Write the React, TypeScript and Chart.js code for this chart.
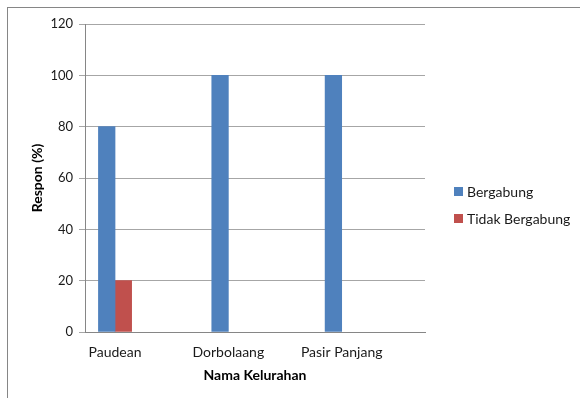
import React, { useEffect, useRef } from "react";
import { Chart, registerables } from "chart.js";

Chart.register(...registerables);

const categories = ["Paudean", "Dorbolaang", "Pasir Panjang"];
const bergabung = [80, 100, 100];
const tidakBergabung = [20, 0, 0];
const seriesNames = ["Bergabung", "Tidak Bergabung"];
const seriesColors = ["#4F81BD", "#C0504D"];
const yMin = 0;
const yMax = 120;
const yStep = 20;
const yTitle = "Respon (%)";
const xTitle = "Nama Kelurahan";

const FONT = "Lato, 'Noto Sans', sans-serif";

export default function App() {
  const ref = useRef<HTMLCanvasElement | null>(null);

  useEffect(() => {
    document.body.style.overflow = "hidden";
    const canvas = ref.current;
    if (!canvas) return;
    const series = [bergabung, tidakBergabung];
    const chart = new Chart(canvas, {
      type: "bar",
      data: {
        datasets: series.map((vals, s) => ({
          label: seriesNames[s],
          data: vals.map((v, i) => ({ x: i, y: v })),
          backgroundColor: (c: any) => (c.raw && c.raw.y === 0 ? "rgba(0,0,0,0)" : seriesColors[s]),
          borderWidth: 0,
          xAxisID: "x",
          yAxisID: "y",
          barThickness: 16.6,
        })),
      },
      options: {
        animation: false,
        responsive: false,
        maintainAspectRatio: false,
        layout: { padding: { top: 16, left: 0, right: 155, bottom: 0 } },
        plugins: { legend: { display: false }, tooltip: { enabled: false } },
        scales: {
          x: {
            type: "linear",
            position: "bottom",
            offset: false,
            min: -0.265,
            max: 2.735,
            bounds: "data",
            afterBuildTicks: (s: any) => {
              s.ticks = categories.map((_, i) => ({ value: i }));
            },
            afterFit: (s: any) => {
              s.height = 66;
            },
            grid: { display: false, drawTicks: false, offset: false },
            border: { display: true, color: "#868686", width: 1 },
            ticks: {
              autoSkip: false,
              maxRotation: 0,
              minRotation: 0,
              padding: 12,
              color: "#1a1a1a",
              font: { family: FONT, size: 14 },
              callback: (v: any) => categories[v as number] ?? "",
            },
            title: {
              display: true,
              text: xTitle,
              color: "#000",
              padding: { top: 0, bottom: 14 },
              font: { family: FONT, size: 14, weight: "bold" },
            },
          },
          y: {
            type: "linear",
            min: yMin,
            max: yMax,
            afterFit: (s: any) => {
              s.width = 77;
            },
            grid: { color: "#a6a6a6", lineWidth: 1, drawTicks: true, tickLength: 6 },
            border: { display: true, color: "#868686", width: 1 },
            ticks: {
              stepSize: yStep,
              padding: 6,
              color: "#1a1a1a",
              font: { family: FONT, size: 13 },
            },
            title: {
              display: true,
              text: yTitle,
              color: "#000",
              padding: { top: 21, bottom: 0 },
              font: { family: FONT, size: 14, weight: "bold" },
            },
          },
        },
      },
    });
    return () => chart.destroy();
  }, []);

  return (
    <div style={{ position: "absolute", left: 0, top: 0, width: 580, height: 398, overflow: "hidden", background: "#fff" }}>
      <div
        style={{
          position: "absolute",
          left: 7,
          top: 7,
          width: 600,
          height: 420,
          borderLeft: "1px solid #868686",
          borderTop: "1px solid #868686",
        }}
      />
      <canvas ref={ref} width={572} height={390} style={{ position: "absolute", left: 8, top: 8, width: 572, height: 390 }} />
      {seriesNames.map((name, i) => (
        <div
          key={name}
          style={{
            position: "absolute",
            left: 454,
            top: 182 + i * 27,
            height: 18,
            display: "flex",
            alignItems: "center",
            fontFamily: FONT,
            fontSize: 14,
            color: "#1a1a1a",
            whiteSpace: "nowrap",
          }}
        >
          <span style={{ display: "inline-block", width: 9, height: 9, background: seriesColors[i], marginRight: 4 }} />
          <span>{name}</span>
        </div>
      ))}
    </div>
  );
}
